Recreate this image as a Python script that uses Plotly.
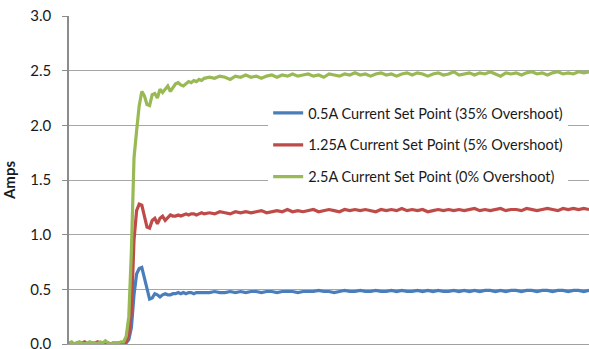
import plotly.graph_objects as go

# Sample times (ms): idle baseline, step transient, steady state
t_base = [round(0.05 * i, 2) for i in range(21)]            # 0.00 .. 1.00
t_step = [round(1.05 + 0.05 * i, 2) for i in range(32)]     # 1.05 .. 2.60
t_steady = [round(2.7 + 0.1 * i, 2) for i in range(74)]     # 2.70 .. 10.0
time_ms = t_base + t_step + t_steady

# 0.5 A set point
blue_base = [0.00, 0.01, 0.00, 0.00, 0.01, 0.00, 0.01, 0.00, 0.00, 0.01, 0.00,
             0.00, 0.01, 0.00, 0.00, 0.01, 0.00, 0.00, 0.01, 0.00, 0.01]
blue_step = [0.00, 0.01, 0.04, 0.15, 0.45, 0.64, 0.69, 0.70, 0.60, 0.48, 0.41,
             0.42, 0.46, 0.45, 0.43, 0.45, 0.46, 0.45, 0.45, 0.46, 0.46, 0.47,
             0.46, 0.47, 0.46, 0.47, 0.47, 0.46, 0.47, 0.47, 0.47, 0.47]
blue_steady = [0.47, 0.48, 0.47, 0.47, 0.48, 0.47, 0.48, 0.47, 0.48,
               0.48, 0.47, 0.48, 0.48, 0.47, 0.48, 0.48, 0.48, 0.47, 0.48,
               0.48, 0.48, 0.49, 0.48, 0.48, 0.47, 0.48, 0.49, 0.48, 0.48,
               0.49, 0.48, 0.48, 0.49, 0.48, 0.48, 0.49, 0.48, 0.49, 0.48,
               0.48, 0.49, 0.48, 0.49, 0.48, 0.49, 0.48, 0.48, 0.49, 0.48,
               0.49, 0.48, 0.49, 0.48, 0.49, 0.49, 0.48, 0.49, 0.48, 0.49,
               0.49, 0.48, 0.49, 0.49, 0.48, 0.49, 0.49, 0.48, 0.49, 0.49,
               0.48, 0.49, 0.49, 0.48, 0.49]

# 1.25 A set point
red_base = [0.00, 0.01, 0.00, 0.01, 0.00, 0.01, 0.02, 0.00, 0.01, 0.00, 0.01,
            0.02, 0.00, 0.01, 0.00, 0.01, 0.00, 0.01, 0.00, 0.01, 0.01]
red_step = [0.01, 0.02, 0.08, 0.30, 0.95, 1.22, 1.28, 1.27, 1.16, 1.07, 1.06,
            1.13, 1.15, 1.10, 1.15, 1.17, 1.13, 1.16, 1.18, 1.17, 1.17, 1.18,
            1.17, 1.18, 1.19, 1.18, 1.19, 1.19, 1.18, 1.19, 1.20, 1.19]
red_steady = [1.20, 1.19, 1.21, 1.20, 1.19, 1.21, 1.20, 1.21, 1.20,
              1.21, 1.22, 1.20, 1.21, 1.22, 1.21, 1.23, 1.21, 1.22, 1.21,
              1.22, 1.23, 1.21, 1.22, 1.23, 1.22, 1.21, 1.23, 1.22, 1.23,
              1.22, 1.23, 1.22, 1.21, 1.23, 1.22, 1.23, 1.22, 1.24, 1.22,
              1.23, 1.22, 1.23, 1.21, 1.22, 1.23, 1.22, 1.23, 1.22, 1.23,
              1.22, 1.23, 1.24, 1.22, 1.23, 1.22, 1.23, 1.24, 1.22, 1.23,
              1.23, 1.22, 1.24, 1.23, 1.22, 1.23, 1.24, 1.23, 1.22, 1.24,
              1.23, 1.24, 1.23, 1.24, 1.23]

# 2.5 A set point
green_base = [0.01, 0.02, 0.00, 0.01, 0.02, 0.01, 0.00, 0.01, 0.02, 0.01, 0.01,
              0.00, 0.02, 0.01, 0.03, 0.01, 0.00, 0.01, 0.01, 0.01, 0.02]
green_step = [0.02, 0.07, 0.25, 0.85, 1.70, 1.95, 2.18, 2.31, 2.27, 2.19, 2.18,
              2.28, 2.29, 2.25, 2.33, 2.30, 2.33, 2.36, 2.31, 2.35, 2.38, 2.39,
              2.37, 2.36, 2.38, 2.40, 2.39, 2.41, 2.40, 2.42, 2.41, 2.43]
green_steady = [2.44, 2.43, 2.45, 2.44, 2.42, 2.45, 2.44, 2.46, 2.44,
                2.45, 2.43, 2.45, 2.46, 2.44, 2.46, 2.45, 2.47, 2.45, 2.46,
                2.47, 2.45, 2.46, 2.44, 2.47, 2.46, 2.45, 2.47, 2.46, 2.48,
                2.46, 2.47, 2.45, 2.47, 2.48, 2.46, 2.47, 2.45, 2.47, 2.48,
                2.46, 2.48, 2.47, 2.45, 2.47, 2.48, 2.46, 2.47, 2.49, 2.46,
                2.47, 2.48, 2.46, 2.48, 2.47, 2.49, 2.47, 2.45, 2.48, 2.47,
                2.48, 2.46, 2.48, 2.49, 2.47, 2.48, 2.46, 2.48, 2.49, 2.47,
                2.48, 2.47, 2.49, 2.48, 2.49]

series = [
    ("0.5A Current Set Point (35% Overshoot)", blue_base + blue_step + blue_steady, "#4A7EBB"),
    ("1.25A Current Set Point (5% Overshoot)", red_base + red_step + red_steady, "#BE4B48"),
    ("2.5A Current Set Point (0% Overshoot)", green_base + green_step + green_steady, "#98B954"),
]

y_ticks = [0.0, 0.5, 1.0, 1.5, 2.0, 2.5, 3.0]

fig = go.Figure()
for i, (name, amps, color) in enumerate(series):
    fig.add_trace(go.Scatter(
        x=time_ms, y=amps, name=name, mode="lines",
        line=dict(color=color, width=3.2),
        legendgroup=f"g{i}",
    ))

font_family = "Lato, 'Open Sans', sans-serif"
fig.update_layout(
    width=589, height=349,
    margin=dict(l=69, r=0, t=16, b=5),
    plot_bgcolor="white", paper_bgcolor="white",
    font=dict(family=font_family, size=14, color="#1a1a1a"),
    showlegend=True,
    legend=dict(
        x=0.383, y=0.753, xanchor="left", yanchor="top",
        bgcolor="white", borderwidth=0,
        font=dict(size=14.5, color="#1a1a1a"),
        traceorder="grouped", tracegroupgap=10,
        itemwidth=30,
    ),
    # white panel behind the legend so the grid stops at its left edge
    shapes=[dict(
        type="rect", xref="paper", yref="paper", layer="below",
        x0=0.337, x1=1.0, y0=0.46, y1=0.755,
        fillcolor="white", line=dict(width=0),
    )],
    xaxis=dict(
        range=[0, 10], showticklabels=False, showgrid=False, zeroline=False,
        showline=True, linecolor="#a0a0a0", linewidth=1, ticks="",
        automargin=False,
    ),
    yaxis=dict(
        range=[0, 3], tickvals=y_ticks, tickformat=".1f",
        showgrid=True, gridcolor="#a6a6a6", gridwidth=1, zeroline=False,
        showline=True, linecolor="#8c8c8c", linewidth=1.5,
        ticks="outside", ticklen=5, tickcolor="#8c8c8c",
        ticklabelstandoff=8, ticklabeloverflow="allow",
        automargin=False,
        tickfont=dict(size=15),
        title=dict(text="<b>Amps</b>", font=dict(size=15), standoff=14),
    ),
)

fig.write_html("out.html")
